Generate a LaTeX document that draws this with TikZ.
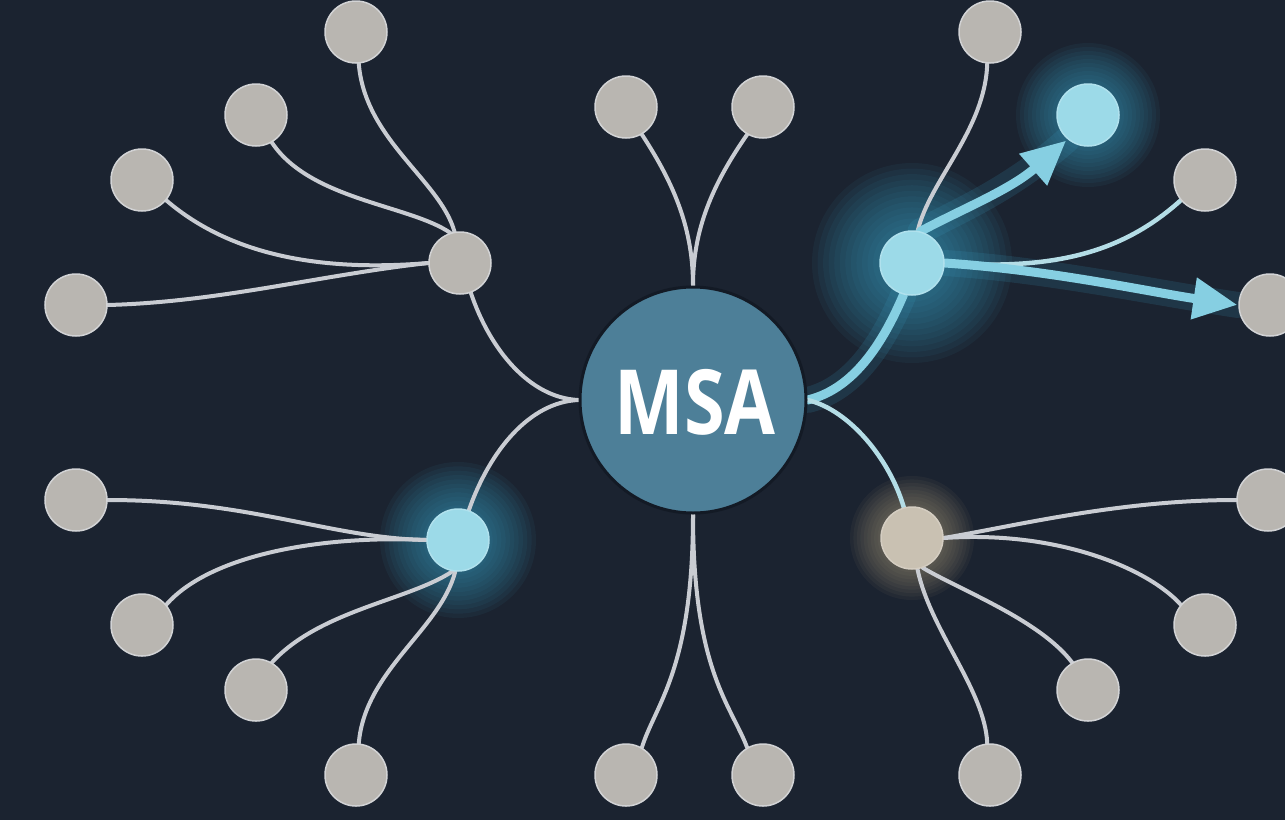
\documentclass[tikz,border=0pt]{standalone}
\usepackage{fontspec}
\usetikzlibrary{arrows.meta}
\newfontfamily\msafont{Open Sans}
\definecolor{bg}{HTML}{1B2330}
\definecolor{msafill}{HTML}{4D7F98}
\definecolor{msarim}{HTML}{131A25}
\definecolor{leafc}{HTML}{B9B6B1}
\definecolor{leafrim}{HTML}{D2D3D5}
\definecolor{edgec}{HTML}{C9CCD2}
\definecolor{hotnode}{HTML}{9CDAE8}
\definecolor{hotline}{HTML}{86CFE2}
\definecolor{paleline}{HTML}{B4DDE6}
\definecolor{glowc}{HTML}{3A9CC0}
\definecolor{warmnode}{HTML}{C9C1B2}
\definecolor{warmglow}{HTML}{A6987A}
\pgfdeclarelayer{halo}
\pgfdeclarelayer{links}
\pgfsetlayers{halo,links,main}
% soft halo made of stacked translucent discs
\newcommand{\mkglow}[3]{%
  \foreach \k in {1,...,18}{\fill[#2, opacity=0.065] (#1) circle ({#3*\k/18});}}
\tikzset{
  leaf/.style={circle, fill=leafc, draw=leafrim, line width=1.5pt, minimum size=62pt, inner sep=0pt},
  hotleaf/.style={leaf, fill=hotnode, draw=hotnode!80!white},
  warmleaf/.style={leaf, fill=warmnode, draw=warmnode!80!white},
  edge/.style={draw=edgec, line width=4pt, line cap=round},
  pale/.style={draw=paleline, line width=4.5pt, line cap=round},
  hot/.style={draw=hotline, line width=9pt, line cap=round},
  hotglow/.style={draw=glowc, line width=26pt, line cap=round, opacity=0.16},
  tip/.style={-{Triangle[length=44pt,width=40pt]}},
}
\begin{document}
\begin{tikzpicture}[x=1pt, y=-1pt]
\clip (0,0) rectangle (1285,820);

% nodes
\node[leaf] (tl1) at (356,32) {};
\node[leaf] (tl2) at (256,115) {};
\node[leaf] (tl3) at (142,180) {};
\node[leaf] (tl4) at (76,305) {};
\node[leaf] (tlh) at (460,263) {};

\node[leaf] (bl1) at (76,500) {};
\node[leaf] (bl2) at (142,625) {};
\node[leaf] (bl3) at (256,690) {};
\node[leaf] (bl4) at (356,775) {};
\node[hotleaf] (blh) at (458,540) {};

\node[leaf] (tc1) at (626,107) {};
\node[leaf] (tc2) at (763,107) {};
\node[leaf] (bc1) at (626,775) {};
\node[leaf] (bc2) at (763,775) {};

\node[leaf] (tr1) at (990,32) {};
\node[hotleaf] (tr2) at (1088,115) {};
\node[leaf] (tr3) at (1205,180) {};
\node[leaf] (tr4) at (1270,305) {};
\node[hotleaf, minimum size=64pt] (trh) at (912,263) {};

\node[leaf] (br1) at (1268,500) {};
\node[leaf] (br2) at (1205,625) {};
\node[leaf] (br3) at (1088,690) {};
\node[leaf] (br4) at (990,775) {};
\node[warmleaf] (brh) at (912,538) {};

\node[circle, fill=msafill, draw=msarim, line width=3pt, minimum size=226pt, inner sep=0pt] (msa) at (693,400) {};
\node[text=white, font=\msafont\bfseries\fontsize{90}{90}\selectfont] (msalabel) at (695,402) {\scalebox{0.82}[1]{MSA}};

% backdrop and halos
\begin{pgfonlayer}{halo}
\fill[bg] (0,0) rectangle (1285,820);
\mkglow{912,263}{glowc}{100}
\mkglow{1088,115}{glowc}{72}
\mkglow{458,540}{glowc}{78}
\mkglow{912,538}{warmglow}{62}
\end{pgfonlayer}

% connectors
\begin{pgfonlayer}{links}
% upper-left cluster
\draw[edge] (tl1.-85) .. controls (365,140) and (440,180) .. (tlh.100);
\draw[edge] (tl2.-60) .. controls (310,200) and (410,205) .. (tlh.108);
\draw[edge] (tl3.-40) .. controls (230,255) and (320,272) .. (tlh.west);
\draw[edge] (tl4.east) .. controls (220,302) and (320,275) .. (tlh.west);
\draw[edge] (tlh.-70) .. controls (490,350) and (530,398) .. (msa.west);
% lower-left cluster
\draw[edge] (blh.70) .. controls (490,450) and (530,402) .. (msa.west);
\draw[edge] (bl1.east) .. controls (250,500) and (330,538) .. (blh.west);
\draw[edge] (bl2.40) .. controls (210,555) and (320,535) .. (blh.west);
\draw[edge] (bl3.60) .. controls (320,610) and (410,600) .. (blh.-100);
\draw[edge] (bl4.85) .. controls (365,670) and (440,630) .. (blh.-95);
% top and bottom pairs
\draw[edge] (tc1.-60) .. controls (675,185) and (693,230) .. (msa.north);
\draw[edge] (tc2.-120) .. controls (712,185) and (693,230) .. (msa.north);
\draw[edge] (msa.south) .. controls (693,670) and (655,705) .. (bc1.60);
\draw[edge] (msa.south) .. controls (693,670) and (731,705) .. (bc2.120);
% upper-right cluster
\draw[hotglow] (trh.-105) .. controls (880,350) and (850,390) .. (msa.east);
\draw[hotglow] (trh.75) .. controls (960,210) and (1010,190) .. (tr2.-130);
\draw[hotglow] (trh.east) .. controls (1050,270) and (1150,292) .. (tr4.west);
\draw[edge] (tr1.-95) .. controls (985,130) and (930,180) .. (trh.80);
\draw[pale] (tr3.-140) .. controls (1120,255) and (1050,270) .. (trh.east);
\draw[hot] (trh.-105) .. controls (880,350) and (850,390) .. (msa.east);
\draw[hot, tip, shorten >=2pt] (trh.75) .. controls (960,210) and (1010,190) .. (tr2.-130);
\draw[hot, tip, shorten >=1pt] (trh.east) .. controls (1050,270) and (1150,292) .. (tr4.west);
% lower-right cluster
\draw[pale] (msa.east) .. controls (850,410) and (890,460) .. (brh.105);
\draw[edge] (br1.west) .. controls (1120,500) and (1020,525) .. (brh.east);
\draw[edge] (br2.140) .. controls (1150,570) and (1060,530) .. (brh.east);
\draw[edge] (br3.120) .. controls (1040,620) and (960,590) .. (brh.-70);
\draw[edge] (br4.95) .. controls (985,690) and (930,630) .. (brh.-80);
\end{pgfonlayer}

\end{tikzpicture}
\end{document}
